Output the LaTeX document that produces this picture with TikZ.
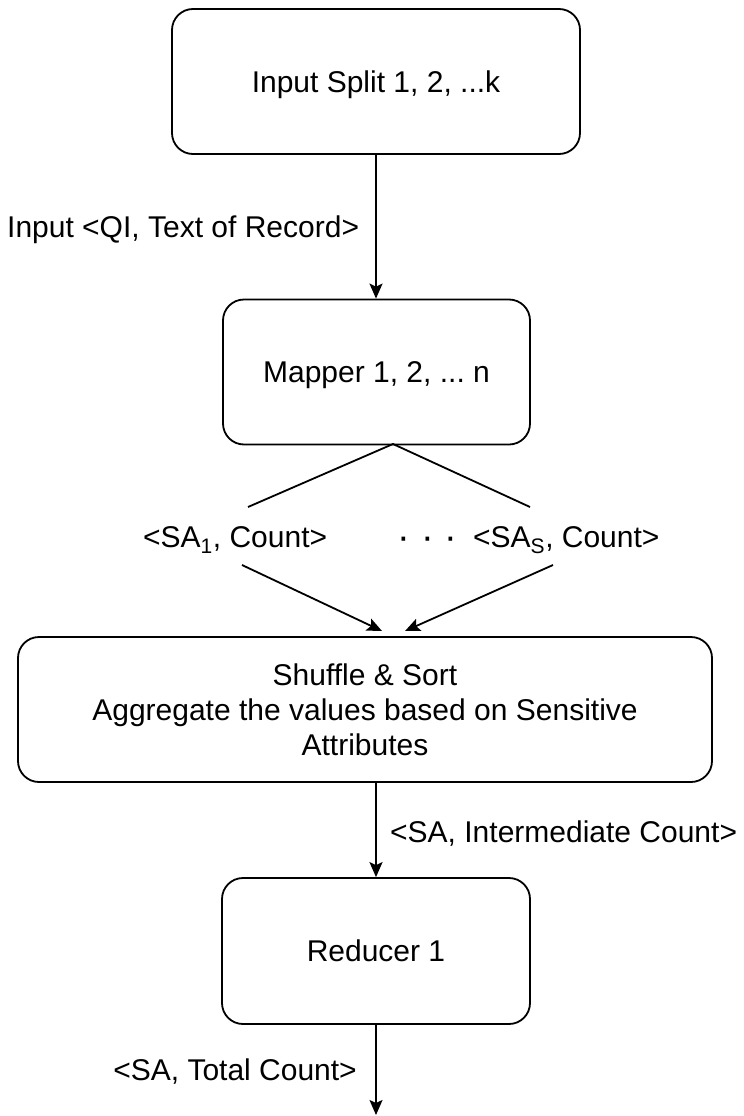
\documentclass[tikz,border=0pt]{standalone}
\usepackage{fontspec}
\setmainfont{Liberation Sans}
\usetikzlibrary{arrows.meta}
\frenchspacing
\begin{document}
\begin{tikzpicture}[x=1pt,y=-1pt,
  every node/.style={font=\fontsize{30}{35}\selectfont},
  box/.style={draw, line width=1.8pt, rounded corners=21pt, inner sep=0pt, align=center},
  onebox/.style={box, text height=21.5pt, text depth=0pt},
  lbl/.style={inner sep=0pt, text height=21.5pt, text depth=0pt},
  conn/.style={line width=1.8pt},
  arr/.style={conn, -{Stealth[length=15pt,width=13pt,inset=3pt]}}]
\useasboundingbox (0,0) rectangle (744,1116);
\fill[white] (0,0) rectangle (744,1116);

% boxes
\node[onebox, minimum width=408pt, minimum height=145pt] (split) at (376,81.5) {Input Split 1, 2, ...k};
\node[onebox, minimum width=307pt, minimum height=145pt] (mapper) at (376.5,372) {Mapper 1, 2, ... n};
\node[box, minimum width=694pt, minimum height=145pt] (shuffle) at (365,709.5)
  {Shuffle \& Sort\\Aggregate the values based on Sensitive\\Attributes};
\node[onebox, minimum width=308pt, minimum height=146pt] (reducer) at (376,951) {Reducer 1};

% split -> mapper
\draw[arr] (split.south) -- (split.south |- mapper.north);
\node[lbl, anchor=west] (inlbl) at (7,227) {Input <QI, Text of Record>};

% mapper fan-out
\coordinate (apex) at (393,444);
\coordinate (l1) at (248,507);
\coordinate (r1) at (530,507);
\draw[conn] (l1) -- (apex) -- (r1);

\node[lbl, anchor=west] (sa1) at (143,537) {<SA\textsubscript{1}, Count>};
\node[inner sep=0pt, text height=24pt, text depth=0pt, font=\fontsize{38}{40}\selectfont] (dots) at (427.5,537) {·\hspace{11pt}·\hspace{11pt}·};
\node[lbl, anchor=west] (sas) at (473,537) {<SA\textsubscript{S}, Count>};

\coordinate (l2) at (242,565);
\coordinate (lt) at (382,631);
\coordinate (r2) at (553,565);
\coordinate (rt) at (405,631);
\draw[arr] (l2) -- (lt);
\draw[arr] (r2) -- (rt);

% shuffle -> reducer
\draw[arr] (reducer.north |- shuffle.south) -- (reducer.north);
\node[lbl, anchor=west] (intlbl) at (390,832) {<SA, Intermediate Count>};

% reducer -> out
\coordinate (out) at (376,1115);
\draw[arr] (reducer.south) -- (out);
\node[lbl, anchor=east] (totlbl) at (357,1070) {<SA, Total Count>};
\end{tikzpicture}
\end{document}
